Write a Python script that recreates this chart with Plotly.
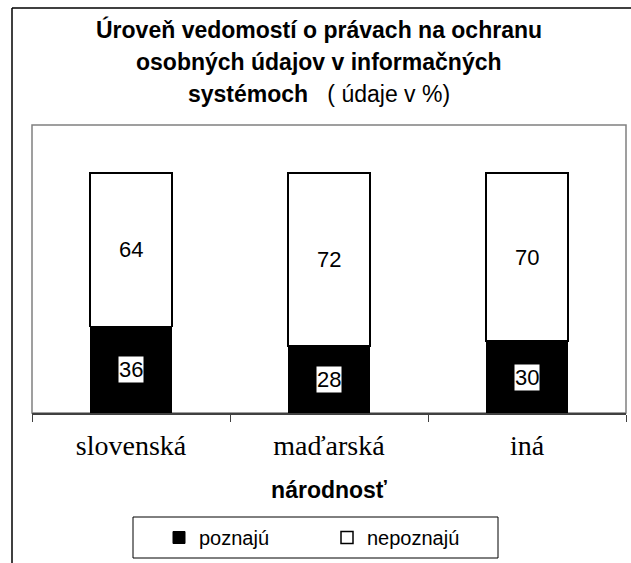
import plotly.graph_objects as go

# Survey results (percent)
categories = ["slovenská", "maďarská", "iná"]
poznaju = [36, 28, 30]
nepoznaju = [64, 72, 70]
series_names = ["poznajú", "nepoznajú"]

title_lines = [
    "<b>Úroveň vedomostí o právach na ochranu</b>",
    "<b>osobných údajov v informačných</b>",
    "<b>systémoch</b>   ( údaje v %)",
]
axis_title = "národnosť"

W, H = 631, 563
L, R, T, B = 32, 5, 125, 150
PW, PH = W - L - R, H - T - B


def px_x(x):
    return (x - L) / PW


def px_y(y):
    return (H - B - y) / PH


SANS = "Liberation Sans, Arial, sans-serif"
SERIF = "Liberation Serif, Times New Roman, serif"

fig = go.Figure()
fig.add_trace(go.Bar(
    x=categories, y=poznaju, name=series_names[0],
    marker=dict(color="black", line=dict(color="black", width=1)),
))
fig.add_trace(go.Bar(
    x=categories, y=nepoznaju, name=series_names[1],
    marker=dict(color="white", line=dict(color="black", width=1.5)),
))

annotations = []
# value labels centred in each segment
for cat, lo, hi in zip(categories, poznaju, nepoznaju):
    annotations.append(dict(
        x=cat, y=lo / 2, xref="x", yref="y", text=str(lo), showarrow=False,
        font=dict(family=SANS, size=22, color="black"),
        bgcolor="white", borderpad=0,
    ))
    annotations.append(dict(
        x=cat, y=lo + hi / 2, xref="x", yref="y", text=str(hi), showarrow=False,
        font=dict(family=SANS, size=22, color="black"),
    ))

# chart title
for line, ypix in zip(title_lines, [30, 62, 94]):
    annotations.append(dict(
        x=px_x(319), y=px_y(ypix), xref="paper", yref="paper", text=line,
        showarrow=False, xanchor="center", yanchor="middle",
        font=dict(family=SANS, size=23, color="black"),
    ))

shapes = [
    # plot-area frame
    dict(type="rect", xref="paper", yref="paper", x0=0, x1=1, y0=0, y1=1,
         line=dict(color="#808080", width=1.5), layer="below"),
    # outer chart frame
    dict(type="line", xref="paper", yref="paper", x0=px_x(12), x1=px_x(12),
         y0=px_y(8), y1=px_y(620), line=dict(color="black", width=1.5)),
    dict(type="line", xref="paper", yref="paper", x0=px_x(12), x1=px_x(700),
         y0=px_y(8), y1=px_y(8), line=dict(color="black", width=1.5)),
    # legend frame
    dict(type="rect", xref="paper", yref="paper", x0=px_x(133), x1=px_x(498),
         y0=px_y(558), y1=px_y(517), line=dict(color="black", width=1)),
]

fig.update_layout(
    width=W, height=H,
    margin=dict(l=L, r=R, t=T, b=B, pad=0),
    paper_bgcolor="white", plot_bgcolor="white",
    barmode="stack", bargap=0.586,
    showlegend=True,
    legend=dict(
        orientation="h", x=px_x(159), y=px_y(518), xanchor="left", yanchor="top",
        borderwidth=0, bgcolor="rgba(0,0,0,0)",
        font=dict(family=SANS, size=20, color="black"),
        entrywidth=123, traceorder="normal",
    ),
    xaxis=dict(
        type="category", showline=True, linecolor="#404040", linewidth=1.5,
        ticks="outside", tickson="boundaries", ticklen=7, tickcolor="#404040",
        tickfont=dict(family=SERIF, size=28, color="black"),
        ticklabelstandoff=7,
        showgrid=False, zeroline=False,
        title=dict(text=f"<b>{axis_title}</b>", standoff=22,
                   font=dict(family=SANS, size=23, color="black")),
    ),
    yaxis=dict(range=[0, 120], visible=False, showgrid=False),
    annotations=annotations,
    shapes=shapes,
    font=dict(family=SANS),
)

fig.write_html("out.html")
